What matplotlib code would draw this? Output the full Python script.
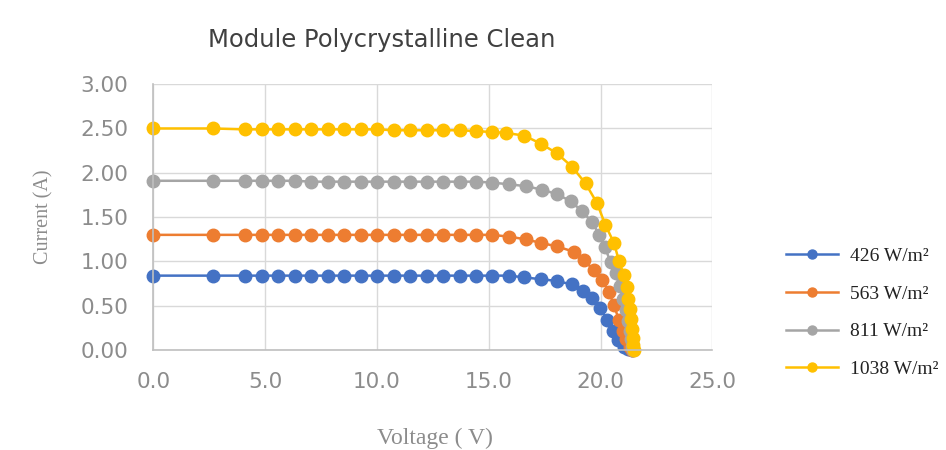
import matplotlib.pyplot as plt
from matplotlib.ticker import FormatStrFormatter

# I-V curves
v_426 = [0.0, 2.66, 4.1, 4.85, 5.6, 6.35, 7.05, 7.8, 8.55, 9.3, 10.0, 10.75, 11.5, 12.25,
         12.95, 13.7, 14.45, 15.15, 15.9, 16.6, 17.32, 18.05, 18.72, 19.2, 19.6, 19.99,
         20.28, 20.55, 20.8, 21.05, 21.25, 21.4]
i_426 = [0.84, 0.84, 0.84, 0.84, 0.84, 0.84, 0.84, 0.84, 0.84, 0.84, 0.84, 0.84, 0.84, 0.84,
         0.84, 0.84, 0.84, 0.84, 0.84, 0.82, 0.80, 0.78, 0.74, 0.67, 0.59, 0.47,
         0.34, 0.21, 0.11, 0.04, 0.01, 0.0]

v_563 = [0.0, 2.66, 4.1, 4.85, 5.6, 6.35, 7.05, 7.8, 8.55, 9.3, 10.0, 10.75, 11.5, 12.25,
         12.95, 13.7, 14.45, 15.15, 15.9, 16.65, 17.32, 18.05, 18.8, 19.25, 19.7, 20.06,
         20.37, 20.6, 20.82, 21.0, 21.15, 21.3, 21.42]
i_563 = [1.30, 1.30, 1.30, 1.30, 1.30, 1.30, 1.30, 1.30, 1.30, 1.30, 1.30, 1.30, 1.30, 1.30,
         1.30, 1.30, 1.30, 1.30, 1.28, 1.25, 1.21, 1.17, 1.11, 1.02, 0.90, 0.79,
         0.66, 0.51, 0.34, 0.22, 0.12, 0.04, 0.0]

v_811 = [0.0, 2.66, 4.1, 4.85, 5.6, 6.35, 7.05, 7.8, 8.55, 9.3, 10.0, 10.75, 11.5, 12.25,
         12.95, 13.7, 14.45, 15.15, 15.9, 16.65, 17.38, 18.05, 18.66, 19.16, 19.6, 19.95,
         20.2, 20.45, 20.67, 20.85, 21.0, 21.12, 21.22, 21.3, 21.37, 21.42, 21.45]
i_811 = [1.91, 1.91, 1.91, 1.91, 1.91, 1.91, 1.90, 1.90, 1.90, 1.90, 1.90, 1.90, 1.90, 1.90,
         1.90, 1.90, 1.90, 1.89, 1.87, 1.85, 1.81, 1.76, 1.68, 1.57, 1.45, 1.30,
         1.16, 0.99, 0.87, 0.72, 0.58, 0.45, 0.33, 0.22, 0.12, 0.04, 0.0]

v_1038 = [0.0, 2.66, 4.1, 4.85, 5.6, 6.35, 7.05, 7.8, 8.55, 9.3, 10.0, 10.75, 11.5, 12.25,
          12.95, 13.7, 14.45, 15.15, 15.76, 16.58, 17.32, 18.05, 18.72, 19.33, 19.84, 20.22,
          20.6, 20.82, 21.04, 21.18, 21.25, 21.3, 21.35, 21.4, 21.43, 21.46, 21.48]
i_1038 = [2.50, 2.50, 2.49, 2.49, 2.49, 2.49, 2.49, 2.49, 2.49, 2.49, 2.49, 2.48, 2.48, 2.48,
          2.48, 2.48, 2.47, 2.46, 2.45, 2.42, 2.33, 2.22, 2.07, 1.88, 1.66, 1.41,
          1.21, 1.01, 0.85, 0.71, 0.58, 0.46, 0.35, 0.24, 0.14, 0.06, 0.0]

labels = ["426 W/m²", "563 W/m²", "811 W/m²", "1038 W/m²"]
colors = ["#4472C4", "#ED7D31", "#A5A5A5", "#FFC000"]

fig = plt.figure(figsize=(9.46, 4.5), dpi=100)
ax = fig.add_axes([0.162, 0.222, 0.591, 0.591])

series = [(v_426, i_426), (v_563, i_563), (v_811, i_811), (v_1038, i_1038)]
handles = []
for (v, i), c, lab in zip(series, colors, labels):
    h, = ax.plot(v, i, color=c, lw=1.8, marker="o", ms=9, label=lab, clip_on=False)
    handles.append(h)

ax.set_xlim(0, 25)
ax.set_ylim(0, 3)
ax.set_xticks([0, 5, 10, 15, 20, 25])
ax.set_yticks([0, 0.5, 1.0, 1.5, 2.0, 2.5, 3.0])
ax.xaxis.set_major_formatter(FormatStrFormatter("%.1f"))
ax.yaxis.set_major_formatter(FormatStrFormatter("%.2f"))
ax.tick_params(length=0, labelsize=15.5, labelcolor="#8c8c8c")
ax.tick_params(axis="y", pad=18)
ax.tick_params(axis="x", pad=16)
ax.grid(True, color="#d9d9d9", lw=1)
ax.set_axisbelow(True)
for s in ["top", "right"]:
    ax.spines[s].set_visible(False)
for s in ["left", "bottom"]:
    ax.spines[s].set_color("#bfbfbf")
    ax.spines[s].set_linewidth(1.2)

fig.text(0.404, 0.911, "Module Polycrystalline Clean", fontsize=17.5, color="#404040",
         ha="center", va="center")
ax.set_xlabel("Voltage ( V)", family="Liberation Serif", fontsize=17, color="#8c8c8c")
ax.set_ylabel("Current (A)", family="Liberation Serif", fontsize=14.5, color="#8c8c8c")
ax.xaxis.set_label_coords(0.504, -0.331)
ax.xaxis.label.set_va("center")
ax.yaxis.set_label_coords(-0.195, 0.5)
ax.yaxis.label.set_va("center")

leg = fig.legend(handles=handles, loc="center left", bbox_to_anchor=(0.812, 0.305),
                 frameon=False, prop={"family": "Liberation Serif", "size": 14},
                 markerscale=0.72, handlelength=2.7, labelspacing=1.03, handletextpad=0.6)
for t in leg.get_texts():
    t.set_color("#222222")

fig.savefig("out.png", dpi=100)
